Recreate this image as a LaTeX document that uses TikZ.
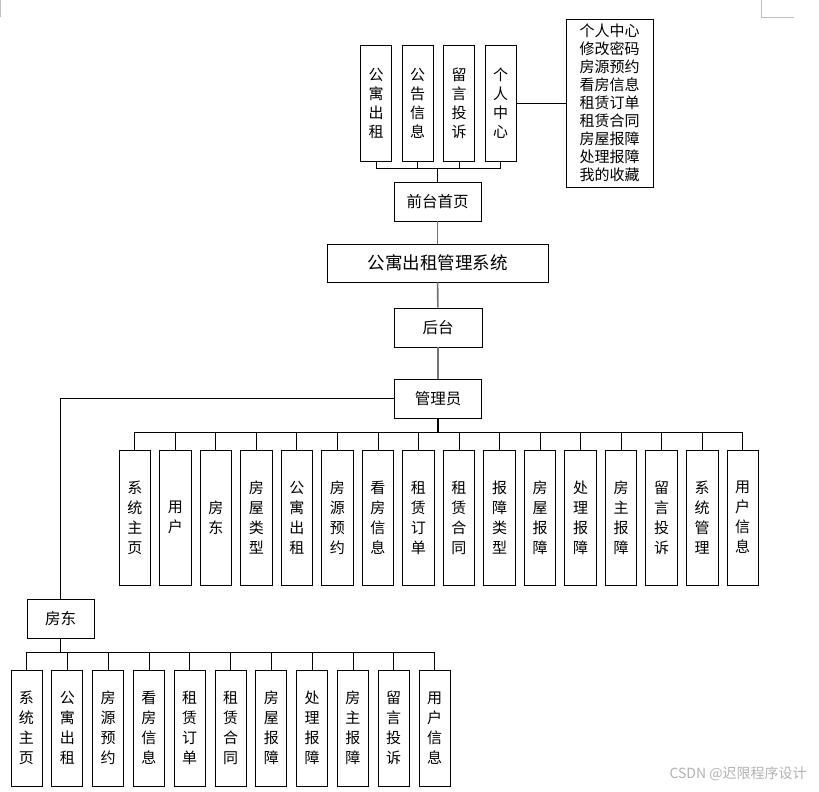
\documentclass[tikz,border=0pt]{standalone}
\usepackage{fontspec}
\setmainfont{Noto Sans CJK SC}
\begin{document}
\begin{tikzpicture}[x=1pt,y=-1pt,line width=0.8pt,inner sep=0pt,
    font=\fontsize{15}{20}\selectfont,
    box/.style={draw,line width=0.8pt,align=center},
    vbox/.style={box,minimum width=31pt},
    chain/.style={draw=black!55,line width=1.6pt},
    trunk/.style={line width=1.6pt},
    corner/.style={draw=black!25,line width=0.6pt}]
    \path[use as bounding box] (0,0) rectangle (819,792);
    % page corner marks
    \draw[corner] (761,0) -- (761,17.5) -- (794,17.5);
    \draw[corner] (0.5,0) -- (0.5,17.5);
    % main chain
    \node[box,minimum width=87pt,minimum height=39pt,font=\fontsize{15.5}{18}\selectfont] (front) at (437.5,201.5) {前台首页};
    \node[box,minimum width=221pt,minimum height=38pt,font=\fontsize{17.5}{20}\selectfont] (system) at (437.5,263) {公寓出租管理系统};
    \node[box,minimum width=88pt,minimum height=39pt,font=\fontsize{15.5}{18}\selectfont] (back) at (438,327.5) {后台};
    \node[box,minimum width=87pt,minimum height=39pt,font=\fontsize{15.5}{18}\selectfont] (admin) at (438,398.5) {管理员};
    \node[box,minimum width=67pt,minimum height=39pt,font=\fontsize{15.5}{18}\selectfont] (landlord) at (60.5,618.5) {房东};
    \draw[chain] (front) -- (system);
    \draw[chain] (system) -- (back);
    \draw[chain] (back) -- (admin);
    \draw (admin.west) -| (landlord.north);
    % front pages
    \foreach \t [count=\i] in {{公\\寓\\出\\租},{公\\告\\信\\息},{留\\言\\投\\诉},{个\\人\\中\\心}} {
      \node[vbox,minimum height=116pt,font=\fontsize{15}{19}\selectfont] (top\i) at ({376+41.5*(\i-1)},103) {\t};
      \draw (top\i.south) -- (top\i.south |- 0,168);
    }
    \draw (top1.south |- 0,168) -- (top4.south |- 0,168);
    \draw[trunk] (front.north) -- (front.north |- 0,168);
    \node[box,minimum width=87pt,minimum height=168pt,font=\fontsize{15}{18}\selectfont] (center) at (609.5,103)
      {个人中心\\修改密码\\房源预约\\看房信息\\租赁订单\\租赁合同\\房屋报障\\处理报障\\我的收藏};
    \draw (top4.east) -- (center.west);
    % admin pages
    \foreach \t [count=\i] in {{系\\统\\主\\页},{用\\户},{房\\东},{房\\屋\\类\\型},{公\\寓\\出\\租},{房\\源\\预\\约},
        {看\\房\\信\\息},{租\\赁\\订\\单},{租\\赁\\合\\同},{报\\障\\类\\型},{房\\屋\\报\\障},{处\\理\\报\\障},
        {房\\主\\报\\障},{留\\言\\投\\诉},{系\\统\\管\\理},{用\\户\\信\\息}} {
      \node[vbox,minimum width=31.5pt,minimum height=135pt] (adm\i) at ({134.75+40.53*(\i-1)},517.5) {\t};
      \draw (adm\i.north) -- (adm\i.north |- 0,432);
    }
    \draw (adm1.north |- 0,432) -- (adm16.north |- 0,432);
    \draw[trunk] (admin.south) -- (admin.south |- 0,432);
    % landlord pages
    \foreach \t [count=\i] in {{系\\统\\主\\页},{公\\寓\\出\\租},{房\\源\\预\\约},{看\\房\\信\\息},{租\\赁\\订\\单},
        {租\\赁\\合\\同},{房\\屋\\报\\障},{处\\理\\报\\障},{房\\主\\报\\障},{留\\言\\投\\诉},{用\\户\\信\\息}} {
      \node[vbox,minimum height=116pt] (ll\i) at ({26.5+40.8*(\i-1)},728) {\t};
      \draw (ll\i.north) -- (ll\i.north |- 0,652);
    }
    \draw (ll1.north |- 0,652) -- (ll11.north |- 0,652);
    \draw[trunk] (landlord.south) -- (landlord.south |- 0,652);
    % watermark
    \node[anchor=east,text=black!30,font=\fontsize{14}{16}\selectfont] (mark) at (807,774) {CSDN @迟限程序设计};
  \end{tikzpicture}
\end{document}
